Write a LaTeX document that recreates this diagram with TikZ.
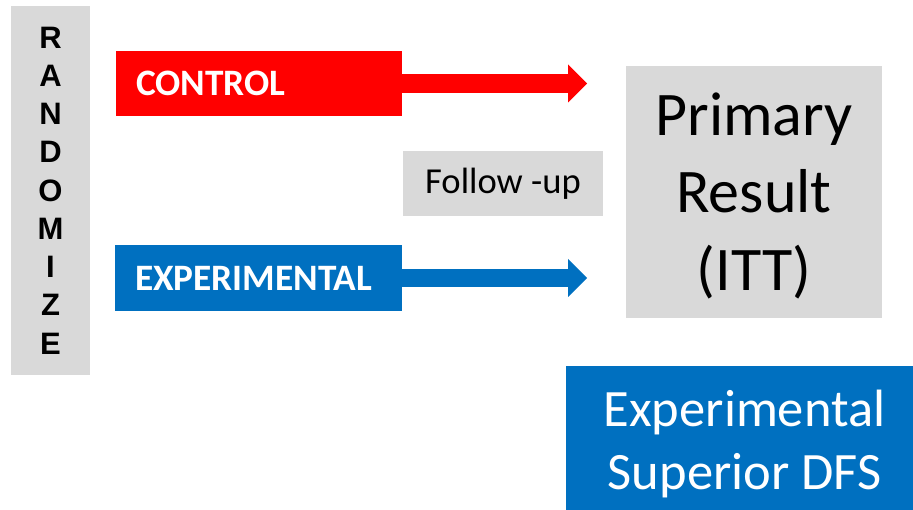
\documentclass[tikz,border=0pt]{standalone}
\usepackage{fontspec}
\setmainfont{Carlito}
\newfontfamily\arialfont{Liberation Sans}
\usetikzlibrary{arrows.meta}
\definecolor{boxgray}{HTML}{D9D9D9}
\definecolor{ctrlred}{HTML}{FF0000}
\definecolor{expblue}{HTML}{0070C0}
\tikzset{
  box/.style={inner sep=0pt, outer sep=0pt, draw=none},
  armbox/.style={box, text=white, font=\fontsize{37.3}{40}\selectfont\bfseries, align=left, inner xsep=20pt},
  blockarrow/.style={line width=#1, -{Triangle[length=19pt,width=38pt,line width=0pt]}, shorten <=-0.5pt},
}
\begin{document}
\begin{tikzpicture}[x=1pt,y=-1pt]
\useasboundingbox (0,0) rectangle (913,510);
\node[box, fill=boxgray, minimum width=79pt, minimum height=369pt,
      font=\arialfont\fontsize{31}{38.25}\selectfont\bfseries, align=center]
  (rand) at (50.5,190.5) {R\\A\\N\\D\\O\\M\\I\\Z\\E};
\node[armbox, fill=ctrlred, minimum height=65pt, text width=246pt]
  (ctrl) at (259,83.5) {CONTROL};
\node[armbox, fill=expblue, minimum height=66pt, text width=247pt]
  (exp) at (258.5,278) {EXPERIMENTAL};
\node[box, fill=boxgray, minimum width=200pt, minimum height=65pt,
      font=\fontsize{36.6}{40}\selectfont]
  (fu) at (503,183.5) {Follow -up};
\node[box, fill=boxgray, minimum width=256pt, minimum height=252pt,
      font=\fontsize{62}{77.5}\selectfont, align=center]
  (prim) at (754,192) {\rule{0pt}{50pt}Primary\\Result\\(ITT)};
\node[box, fill=expblue, text=white, minimum width=347pt, minimum height=144pt,
      font=\fontsize{52.5}{63}\selectfont, align=center]
  (sup) at (739.5,438) {\rule{0pt}{48pt}\hspace*{10pt}Experimental\\\hspace*{10pt}Superior DFS};
\coordinate (ctip) at (587,83.5);
\coordinate (etip) at (587,278);
\draw[blockarrow=19pt, ctrlred] (ctrl.east) -- (ctip);
\draw[blockarrow=18pt, expblue] (exp.east) -- (etip);
\end{tikzpicture}
\end{document}
